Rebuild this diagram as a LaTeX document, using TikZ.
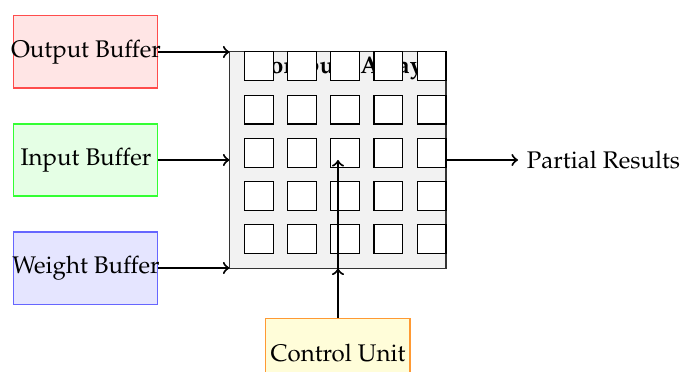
\documentclass[tikz,border=0pt]{standalone}
\usepackage[T1]{fontenc}
\usepackage{mathpazo}
\begin{document}
\begin{tikzpicture}[
  every node/.style={font=\fontsize{9.5}{11.4}\selectfont},
  buf/.style={draw, minimum width=2cm, minimum height=1cm, inner sep=0pt},
  pe/.style={draw, fill=white, minimum size=0.4cm, inner sep=0pt},
  conn/.style={->, thick}]
\useasboundingbox (-1.194,-2.944) rectangle (8.25,2.222);
\node[buf, draw=red!70, fill=red!10] (out) at (0,1.5) {\makebox[0pt]{Output Buffer}};
\node[buf, draw=green!80, fill=green!10] (in) at (0,0) {\makebox[0pt]{Input Buffer}};
\node[buf, draw=blue!60, fill=blue!10] (wt) at (0,-1.5) {\makebox[0pt]{Weight Buffer}};
\node[draw=black!80, fill=gray!10, minimum size=3cm, inner sep=0pt] (arr) at (3.5,0) {};
\node[font=\fontsize{9.5}{11.4}\selectfont\bfseries] (title) at (3.5,1.28) {Compute Array};
\foreach \i in {0,...,4}
  \foreach \j in {0,...,4}
    \node[pe] (pe\i\j) at ({2.4+0.6*\i},{1.3-0.6*\j}) {};
\node[buf, draw=orange!80, fill=yellow!15] (ctl) at (3.5,-2.7) {\raisebox{1.5pt}{\makebox[0pt]{Control Unit}}};
\node[anchor=west] (res) at (6,0) {Partial Results};
\draw[conn] (out.east) -- (out.east -| arr.west);
\draw[conn] (in) -- (arr);
\draw[conn] (wt.east) -- (wt.east -| arr.west);
\draw[conn] (arr.east) -- (res.west);
\draw[conn] (ctl) -- (arr);
\draw[conn] (ctl.north) -- (arr.center);
\end{tikzpicture}
\end{document}
